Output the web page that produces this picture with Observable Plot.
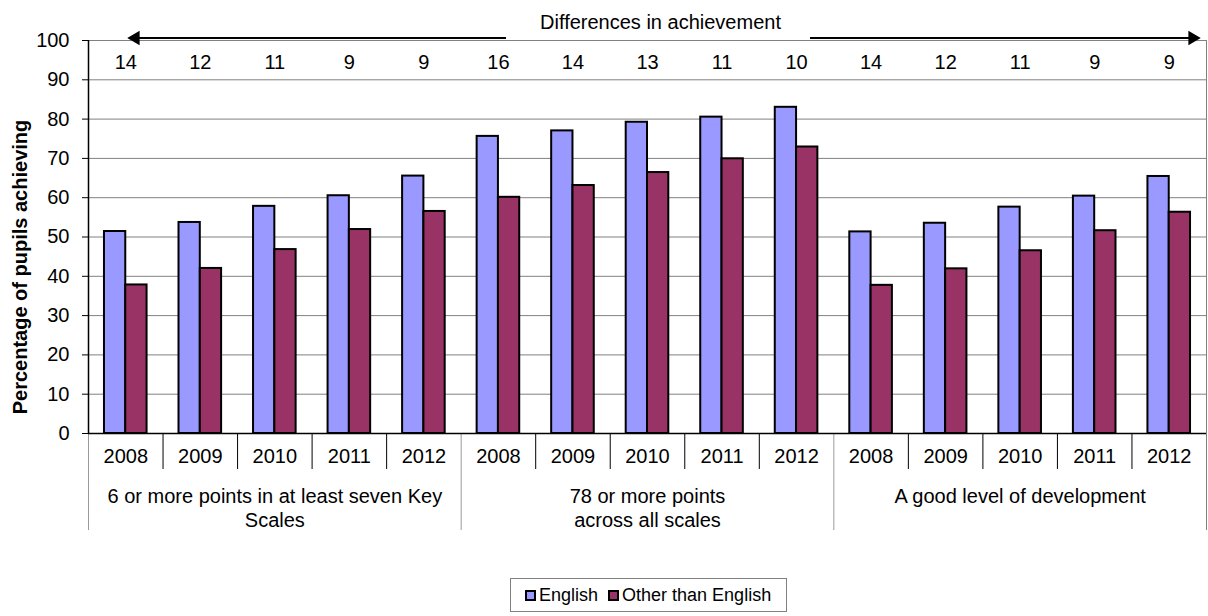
<!DOCTYPE html>
<html>
<head>
<meta charset="utf-8">
<script src="https://cdn.jsdelivr.net/npm/d3@7"></script>
<script src="https://cdn.jsdelivr.net/npm/@observablehq/plot@0.6"></script>
<style>
  html, body { margin: 0; padding: 0; background: #fff; overflow: hidden; }
  #wrap { position: relative; width: 1208px; height: 616px; font-family: "Liberation Sans", Arial, sans-serif; }
  #chart svg { display: block; }
  #legend { position: absolute; left: 510px; top: 578px; width: 277px; height: 34px; border: 1px solid #808080; box-sizing: border-box;
            display: flex; align-items: center; padding-left: 14px; font-size: 18px; color: #000; white-space: nowrap; }
  #legend .item { display: flex; align-items: center; margin-right: 10px; flex-shrink: 0; }
  #legend .sw { width: 7px; height: 7px; border: 2px solid #000; margin-right: 3px; }
</style>
</head>
<body>
<div id="wrap"><div id="chart"></div><div id="legend"></div></div>
<script>
// ---- data ----
const series = ["English", "Other than English"];
const seriesColors = ["#9999FF", "#993366"];
const groups = ["6 or more points in at least seven Key\nScales", "78 or more points\nacross all scales", "A good level of development"];
const years = ["2008", "2009", "2010", "2011", "2012"];
const english = [51.4, 53.7, 57.8, 60.5, 65.5, 75.6, 77.0, 79.2, 80.5, 83.0, 51.3, 53.5, 57.6, 60.4, 65.4];
const other = [37.8, 42.0, 46.8, 51.9, 56.5, 60.1, 63.1, 66.4, 69.9, 72.9, 37.7, 41.9, 46.5, 51.6, 56.3];
const differences = [14, 12, 11, 9, 9, 16, 14, 13, 11, 10, 14, 12, 11, 9, 9];
const yTicks = [0, 10, 20, 30, 40, 50, 60, 70, 80, 90, 100];
const yTitle = "Percentage of pupils achieving";
const topTitle = "Differences in achievement";

// ---- derived table ----
const rows = [];
groups.forEach((g, gi) => years.forEach((yr, yi) => {
  const i = gi * years.length + yi;
  rows.push({key: gi + "-" + yr, group: gi, year: yr, eng: english[i], oth: other[i], diff: differences[i], first: yi === 0, last: yi === years.length - 1});
}));
const keys = rows.map(d => d.key);
const groupRows = groups.map((g, gi) => ({label: g, key: gi + "-" + years[2]}));

// ---- layout ----
const W = 1208, H = 570, mL = 88, mR = 2, mT = 40, mB = 137;
const bw = (W - mL - mR) / keys.length;
const barW = bw / 3.5;
const outerPad = 0.75 * barW;

const chart = Plot.plot({
  width: W, height: H,
  marginLeft: mL, marginRight: mR, marginTop: mT, marginBottom: mB,
  style: {fontFamily: "'Liberation Sans', Arial, sans-serif", fontSize: "20px", color: "#000", background: "#fff", overflow: "visible"},
  x: {type: "band", domain: keys, padding: 0, round: false, axis: null},
  y: {domain: [0, 100], axis: null},
  marks: [
    // gridlines
    Plot.ruleY(yTicks.filter(d => d > 0), {stroke: "#808080", strokeWidth: 1}),
    // right plot border + right group separator
    Plot.ruleX(rows.filter(d => d.last && d.group === groups.length - 1), {x: "key", y1: 100, y2: 0, dx: bw / 2, insetBottom: -97, stroke: "#808080"}),
    // group separators below axis
    Plot.ruleX(rows.filter(d => d.first), {x: "key", y1: 0, y2: 0, dx: -bw / 2, insetBottom: -97, stroke: "#9a9a9a"}),
    // year separators below axis
    Plot.ruleX(rows.filter(d => !d.first), {x: "key", y1: 0, y2: 0, dx: -bw / 2, insetBottom: -36, stroke: "#000"}),
    // bars
    Plot.barY(rows, {x: "key", y: "eng", fill: seriesColors[0], stroke: "#000", strokeWidth: 2, insetLeft: outerPad, insetRight: bw - outerPad - barW}),
    Plot.barY(rows, {x: "key", y: "oth", fill: seriesColors[1], stroke: "#000", strokeWidth: 2, insetLeft: bw - outerPad - barW, insetRight: outerPad}),
    // axes lines
    Plot.ruleY([0], {stroke: "#000", strokeWidth: 1.5}),
    Plot.ruleX([keys[0]], {x: d => d, y1: 0, y2: 100, dx: -bw / 2, stroke: "#000", strokeWidth: 1.5}),
    Plot.axisY({ticks: yTicks, tickSize: 6, tickPadding: 13, tickFormat: d => String(d), label: null, fontSize: 20}),
    // y title
    Plot.text([yTitle], {frameAnchor: "left", textAnchor: "middle", lineAnchor: "middle", rotate: -90, dx: -68, dy: 30, fontWeight: "bold", fontSize: 20}),
    // differences row
    Plot.text(rows, {x: "key", text: d => String(d.diff), frameAnchor: "top", lineAnchor: "middle", dy: 22}),
    // arrow
    Plot.ruleY([100], {insetLeft: 44, insetRight: W - mR - 506, dy: -2.5, stroke: "#000", strokeWidth: 2}),
    Plot.ruleY([100], {insetLeft: 810 - mL, insetRight: 14, dy: -2.5, stroke: "#000", strokeWidth: 2}),
    Plot.dot([100], {y: d => d, frameAnchor: "left", dx: 47, dy: -2.5, symbol: "triangle", r: 5.3, rotate: -90, fill: "#000", stroke: "none"}),
    Plot.dot([100], {y: d => d, frameAnchor: "right", dx: -14, dy: -2.5, symbol: "triangle", r: 5.3, rotate: 90, fill: "#000", stroke: "none"}),
    Plot.text([topTitle], {frameAnchor: "top", lineAnchor: "middle", dx: 13, dy: -18}),
    // year labels
    Plot.text(rows, {x: "key", text: "year", frameAnchor: "bottom", lineAnchor: "middle", dy: 23}),
    // group labels
    Plot.text(groupRows, {x: "key", text: "label", frameAnchor: "bottom", lineAnchor: "top", lineHeight: 1.2, dy: 52})
  ]
});
document.getElementById("chart").appendChild(chart);

// legend
const legend = document.getElementById("legend");
series.forEach((s, i) => {
  const item = document.createElement("div");
  item.className = "item";
  const sw = document.createElement("div");
  sw.className = "sw";
  sw.style.background = seriesColors[i];
  const t = document.createElement("span");
  t.textContent = s;
  item.appendChild(sw); item.appendChild(t);
  legend.appendChild(item);
});
</script>
</body>
</html>
